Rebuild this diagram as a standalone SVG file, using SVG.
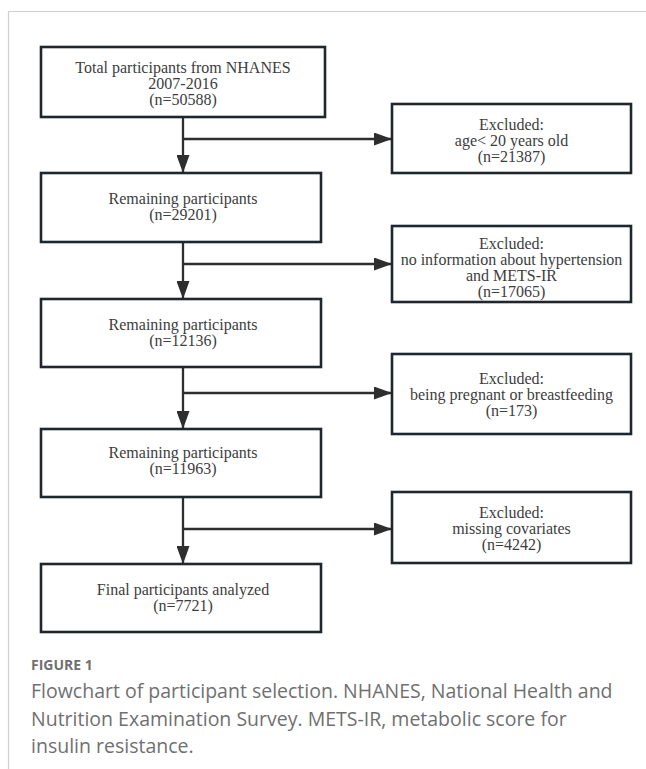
<svg xmlns="http://www.w3.org/2000/svg" width="646" height="769" viewBox="0 0 646 769">
<defs>
<marker id="ah" markerWidth="18" markerHeight="13" refX="18" refY="6.5" orient="auto" markerUnits="userSpaceOnUse">
<path d="M0,0 L18,6.5 L0,13 Z" fill="#2e2e2e"/>
</marker>
</defs>
<style>
.box{fill:#fff;stroke:#1f262c;stroke-width:2.6}
.t{font-family:"Liberation Serif","Times New Roman",serif;font-size:16px;fill:#3d3d3d;text-anchor:middle}
.ln{fill:none;stroke:#2e2e2e;stroke-width:2.3}
.frame{fill:none;stroke:#cfcfcf;stroke-width:1.2}
.cap{font-family:"Open Sans","Noto Sans",sans-serif;fill:#707070}
</style>
<rect width="646" height="769" fill="#fff"/>
<path class="frame" d="M8.5,769 V11.5 H646"/>
<g id="connectors">
<line class="ln" x1="183" y1="117" x2="183" y2="173" marker-end="url(#ah)"/>
<line class="ln" x1="183" y1="139" x2="392" y2="139" marker-end="url(#ah)"/>
<line class="ln" x1="183" y1="242" x2="183" y2="299" marker-end="url(#ah)"/>
<line class="ln" x1="183" y1="264" x2="392" y2="264" marker-end="url(#ah)"/>
<line class="ln" x1="183" y1="367" x2="183" y2="429" marker-end="url(#ah)"/>
<line class="ln" x1="183" y1="393" x2="392" y2="393" marker-end="url(#ah)"/>
<line class="ln" x1="183" y1="497" x2="183" y2="564" marker-end="url(#ah)"/>
<line class="ln" x1="183" y1="529" x2="392" y2="529" marker-end="url(#ah)"/>
</g>
<g id="n_total">
<rect class="box" x="41" y="47" width="284" height="70"/>
<text class="t" x="183" y="73">Total participants from NHANES</text>
<text class="t" x="183" y="89">2007-2016</text>
<text class="t" x="183" y="105">(n=50588)</text>
</g>
<g id="n_ex1">
<rect class="box" x="392" y="104" width="239" height="69"/>
<text class="t" x="511.5" y="130">Excluded:</text>
<text class="t" x="511.5" y="146">age&lt; 20 years old</text>
<text class="t" x="511.5" y="162">(n=21387)</text>
</g>
<g id="n_rem1">
<rect class="box" x="41" y="173" width="280" height="69"/>
<text class="t" x="183" y="204">Remaining participants</text>
<text class="t" x="183" y="220">(n=29201)</text>
</g>
<g id="n_ex2">
<rect class="box" x="392" y="226" width="239" height="76"/>
<text class="t" x="511.5" y="249">Excluded:</text>
<text class="t" x="511.5" y="265">no information about hypertension</text>
<text class="t" x="511.5" y="281">and METS-IR</text>
<text class="t" x="511.5" y="297">(n=17065)</text>
</g>
<g id="n_rem2">
<rect class="box" x="41" y="299" width="280" height="68"/>
<text class="t" x="183" y="330">Remaining participants</text>
<text class="t" x="183" y="346">(n=12136)</text>
</g>
<g id="n_ex3">
<rect class="box" x="392" y="354" width="239" height="80"/>
<text class="t" x="511.5" y="384">Excluded:</text>
<text class="t" x="511.5" y="400">being pregnant or breastfeeding</text>
<text class="t" x="511.5" y="416">(n=173)</text>
</g>
<g id="n_rem3">
<rect class="box" x="41" y="429" width="280" height="68"/>
<text class="t" x="183" y="458">Remaining participants</text>
<text class="t" x="183" y="474">(n=11963)</text>
</g>
<g id="n_ex4">
<rect class="box" x="392" y="492" width="239" height="71"/>
<text class="t" x="511.5" y="518">Excluded:</text>
<text class="t" x="511.5" y="534">missing covariates</text>
<text class="t" x="511.5" y="550">(n=4242)</text>
</g>
<g id="n_final">
<rect class="box" x="41" y="564" width="280" height="68"/>
<text class="t" x="183" y="595">Final participants analyzed</text>
<text class="t" x="183" y="611">(n=7721)</text>
</g>
<g id="caption">
<text class="cap" x="31" y="670" font-size="14" font-weight="700">FIGURE 1</text>
<text class="cap" x="31" y="698" font-size="19.5">Flowchart of participant selection. NHANES, National Health and</text>
<text class="cap" x="31" y="726" font-size="19.5">Nutrition Examination Survey. METS-IR, metabolic score for</text>
<text class="cap" x="31" y="753" font-size="19.5">insulin resistance.</text>
</g>
</svg>
